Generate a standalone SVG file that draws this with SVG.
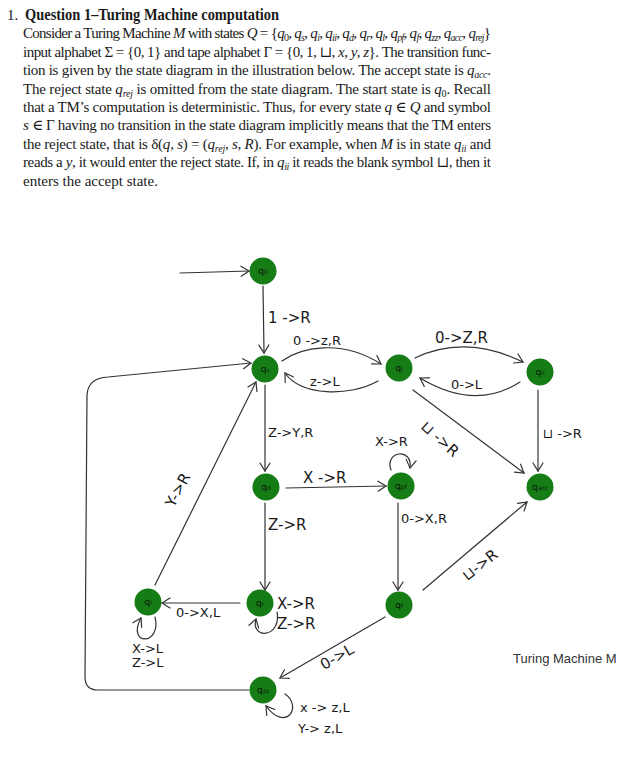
<svg xmlns="http://www.w3.org/2000/svg" width="627" height="757" viewBox="0 0 627 757">
<style>
.body{font-family:"Liberation Serif","DejaVu Serif",serif;font-size:15px;fill:#1a1a1a}
.i{font-style:italic}
.s{font-size:10px}
.ttl{font-family:"Liberation Serif",serif;font-size:16px;font-weight:bold;fill:#1a1a1a}
.e{fill:none;stroke:#333;stroke-width:1.2;stroke-linecap:round}
.ea{fill:none;stroke:#333;stroke-width:1.2;stroke-linecap:round;marker-end:url(#ch)}
.lb{font-family:"DejaVu Sans","Liberation Sans",sans-serif;font-size:13px;fill:#1a1a1a}
.lbb{font-family:"DejaVu Sans","Liberation Sans",sans-serif;font-size:15px;fill:#1a1a1a}
.nd{fill:#167c16}
.nl{font-family:"DejaVu Sans",sans-serif;font-size:9.5px;fill:#0a1a0a;text-anchor:middle}
.ns{font-size:6px}
.cap{font-family:"Liberation Sans",Arial,sans-serif;font-size:13px;fill:#333}
</style>
<defs>
<marker id="ch" viewBox="0 0 12 12" markerWidth="12" markerHeight="12" refX="10" refY="6" orient="auto" markerUnits="userSpaceOnUse">
<path d="M2,1 L10,6 L2,11" fill="none" stroke="#333" stroke-width="1.2" stroke-linecap="round"/>
</marker>
</defs>
<rect width="627" height="757" fill="#fff"/>
<g id="text">
<text class="body" x="7" y="20">1.</text>
<text class="ttl" x="25" y="20" textLength="254" lengthAdjust="spacingAndGlyphs">Question 1–Turing Machine computation</text>
<text class="body" x="23" y="38.4" textLength="468" lengthAdjust="spacing">Consider a Turing Machine <tspan class="i">M</tspan> with states <tspan class="i">Q</tspan> = {<tspan class="i">q</tspan><tspan class="s" dy="3">0</tspan><tspan dy="-3">, </tspan><tspan class="i">q</tspan><tspan class="s i" dy="3">s</tspan><tspan dy="-3">, </tspan><tspan class="i">q</tspan><tspan class="s i" dy="3">i</tspan><tspan dy="-3">, </tspan><tspan class="i">q</tspan><tspan class="s i" dy="3">ii</tspan><tspan dy="-3">, </tspan><tspan class="i">q</tspan><tspan class="s i" dy="3">d</tspan><tspan dy="-3">, </tspan><tspan class="i">q</tspan><tspan class="s i" dy="3">r</tspan><tspan dy="-3">, </tspan><tspan class="i">q</tspan><tspan class="s i" dy="3">l</tspan><tspan dy="-3">, </tspan><tspan class="i">q</tspan><tspan class="s i" dy="3">pf</tspan><tspan dy="-3">, </tspan><tspan class="i">q</tspan><tspan class="s i" dy="3">f</tspan><tspan dy="-3">, </tspan><tspan class="i">q</tspan><tspan class="s i" dy="3">zz</tspan><tspan dy="-3">, </tspan><tspan class="i">q</tspan><tspan class="s i" dy="3">acc</tspan><tspan dy="-3">, </tspan><tspan class="i">q</tspan><tspan class="s i" dy="3">rej</tspan><tspan dy="-3">}</tspan></text>
<text class="body" x="23" y="56.8" textLength="468" lengthAdjust="spacing">input alphabet Σ = {0, 1} and tape alphabet Γ = {0, 1, ⊔, <tspan class="i">x</tspan>, <tspan class="i">y</tspan>, <tspan class="i">z</tspan>}. The transition func-</text>
<text class="body" x="23" y="75.2" textLength="468" lengthAdjust="spacing">tion is given by the state diagram in the illustration below. The accept state is <tspan class="i">q</tspan><tspan class="s i" dy="3">acc</tspan><tspan dy="-3">.</tspan></text>
<text class="body" x="23" y="93.6" textLength="468" lengthAdjust="spacing">The reject state <tspan class="i">q</tspan><tspan class="s i" dy="3">rej</tspan><tspan dy="-3"> is omitted from the state diagram. The start state is </tspan><tspan class="i">q</tspan><tspan class="s" dy="3">0</tspan><tspan dy="-3">. Recall</tspan></text>
<text class="body" x="23" y="112" textLength="468" lengthAdjust="spacing">that a TM’s computation is deterministic. Thus, for every state <tspan class="i">q</tspan> ∈ <tspan class="i">Q</tspan> and symbol</text>
<text class="body" x="23" y="130.4" textLength="468" lengthAdjust="spacing"><tspan class="i">s</tspan> ∈ Γ having no transition in the state diagram implicitly means that the TM enters</text>
<text class="body" x="23" y="148.8" textLength="468" lengthAdjust="spacing">the reject state, that is δ(<tspan class="i">q, s</tspan>) = (<tspan class="i">q</tspan><tspan class="s i" dy="3">rej</tspan><tspan dy="-3">, </tspan><tspan class="i">s, R</tspan>). For example, when <tspan class="i">M</tspan> is in state <tspan class="i">q</tspan><tspan class="s i" dy="3">ii</tspan><tspan dy="-3"> and</tspan></text>
<text class="body" x="23" y="167.2" textLength="468" lengthAdjust="spacing">reads a <tspan class="i">y</tspan>, it would enter the reject state. If, in <tspan class="i">q</tspan><tspan class="s i" dy="3">ii</tspan><tspan dy="-3"> it reads the blank symbol ⊔, then it</tspan></text>
<text class="body" x="23" y="185.6">enters the accept state.</text>
</g>
<g id="connectors">
<path class="ea" d="M180,273 L249,271"/>
<path class="ea" d="M263,286 L264,353"/>
<path class="ea" d="M282,361 C300,348 340,338 381,364"/>
<path class="ea" d="M378,381 C350,397 300,396 285,373"/>
<path class="ea" d="M415,358 Q465,334 523,362"/>
<path class="ea" d="M520,382 Q475,411 420,378"/>
<path class="ea" d="M413,390 L524,473"/>
<path class="ea" d="M538,390 L538,471"/>
<path class="ea" d="M265,385 L265,471"/>
<path class="ea" d="M286,488 L386,486"/>
<path class="ea" d="M391,470 C384,451 413,447 410,468"/>
<path class="ea" d="M265,503 L265,590"/>
<path class="ea" d="M398,503 L398,590"/>
<path class="ea" d="M240,603 L162,603"/>
<path class="ea" d="M277,612 C282,638 250,640 256,619"/>
<path class="ea" d="M155,617 C162,646 126,646 141,618"/>
<path class="ea" d="M155,585 L256,382"/>
<path class="ea" d="M249,690 L98,690 Q85,690 85,677 L87,395 Q88,378 108,377 L251,363"/>
<path class="ea" d="M385,617 L280,678"/>
<path class="ea" d="M423,590 L527,502"/>
<path class="ea" d="M285,694 C303,706 286,733 266,706"/>
</g>
<g id="labels">
<text class="lbb" x="268" y="323">1 -&gt;R</text>
<text class="lb" x="293" y="345">0 -&gt;z,R</text>
<text class="lb" x="310" y="386">z-&gt;L</text>
<text class="lbb" x="435" y="343">0-&gt;Z,R</text>
<text class="lb" x="451" y="389">0-&gt;L</text>
<text class="lbb" transform="translate(440,439) rotate(42)" text-anchor="middle" dy="5">⊔ -&gt;R</text>
<text class="lb" x="543" y="438">⊔ -&gt;R</text>
<text class="lb" x="268" y="437">Z-&gt;Y,R</text>
<text class="lbb" x="303" y="483">X -&gt;R</text>
<text class="lb" x="375" y="446">X-&gt;R</text>
<text class="lbb" x="268" y="530">Z-&gt;R</text>
<text class="lb" x="401" y="523">0-&gt;X,R</text>
<text class="lb" x="176" y="617">0-&gt;X,L</text>
<text class="lbb" x="277" y="609">X-&gt;R</text>
<text class="lbb" x="277" y="629">Z-&gt;R</text>
<text class="lb" x="132" y="653">X-&gt;L</text>
<text class="lb" x="132" y="667">Z-&gt;L</text>
<text class="lbb" transform="translate(178,490) rotate(-62)" text-anchor="middle" dy="5">Y-&gt;R</text>
<text class="lbb" transform="translate(337,657) rotate(-30)" text-anchor="middle" dy="5">0-&gt;L</text>
<text class="lbb" transform="translate(480,565) rotate(-38)" text-anchor="middle" dy="5">⊔-&gt;R</text>
<text class="lb" x="300" y="712">x -&gt; z,L</text>
<text class="lb" x="298" y="733">Y-&gt; z,L</text>
<text class="cap" x="513" y="663">Turing Machine M</text>
</g>
<g id="nodes">
<g id="q0"><circle class="nd" cx="263" cy="271" r="13.5"/><text class="nl" x="263" y="274">q<tspan class="ns">0</tspan></text></g>
<g id="qs"><circle class="nd" cx="265" cy="369" r="13.5"/><text class="nl" x="265" y="372">q<tspan class="ns">s</tspan></text></g>
<g id="qi"><circle class="nd" cx="399" cy="368" r="13.5"/><text class="nl" x="399" y="371">q<tspan class="ns">i</tspan></text></g>
<g id="qii"><circle class="nd" cx="540" cy="372" r="13.5"/><text class="nl" x="540" y="375">q<tspan class="ns">ii</tspan></text></g>
<g id="qd"><circle class="nd" cx="266" cy="487" r="13.5"/><text class="nl" x="266" y="490">q<tspan class="ns">d</tspan></text></g>
<g id="qpf"><circle class="nd" cx="401" cy="486" r="13.5"/><text class="nl" x="401" y="489">q<tspan class="ns">pf</tspan></text></g>
<g id="qacc"><circle class="nd" cx="540" cy="487" r="13.5"/><text class="nl" x="540" y="490">q<tspan class="ns">acc</tspan></text></g>
<g id="ql"><circle class="nd" cx="148" cy="602" r="13.5"/><text class="nl" x="148" y="605">q<tspan class="ns">l</tspan></text></g>
<g id="qr"><circle class="nd" cx="260" cy="603" r="13.5"/><text class="nl" x="260" y="606">q<tspan class="ns">r</tspan></text></g>
<g id="qf"><circle class="nd" cx="399" cy="605" r="13.5"/><text class="nl" x="399" y="608">q<tspan class="ns">f</tspan></text></g>
<g id="qzz"><circle class="nd" cx="263" cy="690" r="13.5"/><text class="nl" x="263" y="693">q<tspan class="ns">zz</tspan></text></g>
</g>
</svg>
